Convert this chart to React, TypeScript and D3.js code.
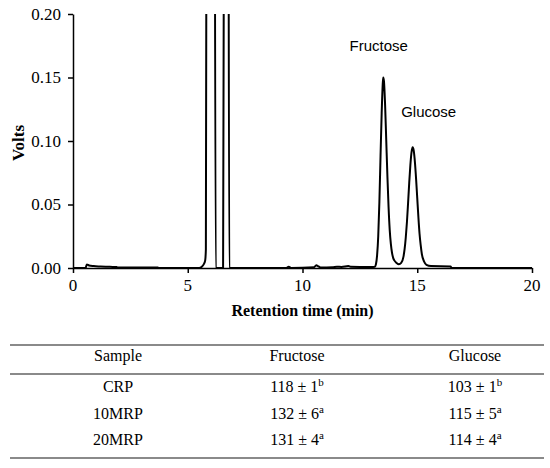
import { useEffect, useRef } from "react";
import * as d3 from "d3";

// chromatogram trace: [retention time (min), volts]
const traceTime = [
  0, 0.55, 0.6, 0.7, 0.9, 1.2, 1.6, 1.9, 1.95, 3.7, 3.75, 5.5, 5.6, 5.7, 5.76, 5.79,
  5.84, 6.0, 6.15, 6.22, 6.26, 6.54, 6.6, 6.68, 6.76, 6.81, 6.85,
  9.3, 9.4, 9.5, 10.5, 10.6, 10.7, 10.8, 11.3, 11.5, 11.7, 12.0, 12.1, 12.5, 13.0,
  13.15, 13.2, 13.25, 13.3, 13.35, 13.4, 13.45, 13.5, 13.52, 13.55, 13.6, 13.65, 13.7,
  13.75, 13.8, 13.85, 13.9, 13.95, 14.0, 14.1, 14.2, 14.3, 14.4, 14.45, 14.5, 14.55,
  14.6, 14.65, 14.7, 14.75, 14.8, 14.85, 14.9, 14.95, 15.0, 15.05, 15.1, 15.15, 15.2,
  15.3, 15.4, 15.6, 16.45, 16.5, 20,
];
const traceVolts = [
  0, 0, 0.0028, 0.002, 0.0015, 0.0012, 0.0009, 0.0008, 0.0003, 0.0003, 0, 0, 0.0008, 0.003, 0.006, 0.015,
  0.6, 1.2, 0.6, 0, 0, 0, 0.5, 0.9, 0.5, 0, 0,
  0, 0.001, 0, 0.0005, 0.0022, 0.0012, 0.0003, 0.0005, 0.001, 0.0008, 0.0015, 0.0009, 0.0008, 0.0008,
  0.001, 0.003, 0.01, 0.025, 0.052, 0.088, 0.122, 0.146, 0.15, 0.147, 0.128, 0.1, 0.072,
  0.048, 0.03, 0.019, 0.012, 0.008, 0.006, 0.004, 0.003, 0.004, 0.009, 0.015, 0.024, 0.036,
  0.051, 0.067, 0.081, 0.091, 0.095, 0.092, 0.083, 0.07, 0.055, 0.04, 0.027, 0.018, 0.011,
  0.005, 0.0025, 0.0015, 0.0012, 0, 0,
];

const xTicks = [0, 5, 10, 15, 20];
const yTicks = [0, 0.05, 0.1, 0.15, 0.2];

const peakNames = ["Fructose", "Glucose"];
const peakLabelAt = [
  [12.05, 0.171],
  [14.3, 0.119],
];

const tableHeader = ["Sample", "Fructose", "Glucose"];
const samples = ["CRP", "10MRP", "20MRP"];
const fructoseMean = [118, 132, 131];
const fructoseSd = [1, 6, 4];
const fructoseGroup = ["b", "a", "a"];
const glucoseMean = [103, 115, 114];
const glucoseSd = [1, 5, 4];
const glucoseGroup = ["b", "a", "a"];

const W = 550;
const H = 468;
const SERIF = "Liberation Serif";
const SANS = "Liberation Sans";

export default function App() {
  const svgRef = useRef<SVGSVGElement>(null);

  useEffect(() => {
    if (!svgRef.current) return;
    const svg = d3.select(svgRef.current);
    svg.selectAll("*").remove();

    const x = d3.scaleLinear().domain([0, 20]).range([73, 532]);
    const y = d3.scaleLinear().domain([0, 0.2]).range([268, 14]);

    svg
      .append("defs")
      .append("clipPath")
      .attr("id", "plot-clip")
      .append("rect")
      .attr("x", 73)
      .attr("y", 14)
      .attr("width", 459)
      .attr("height", 256);

    // trace
    const pts = traceTime.map((t, i) => [t, traceVolts[i]] as [number, number]);
    const line = d3
      .line<[number, number]>()
      .x((d) => x(d[0]))
      .y((d) => y(d[1]))
      .curve(d3.curveMonotoneX);
    svg
      .append("path")
      .attr("clip-path", "url(#plot-clip)")
      .attr("d", line(pts))
      .attr("fill", "none")
      .attr("stroke", "#000")
      .attr("stroke-width", 2)
      .attr("stroke-linejoin", "round");

    // axes (lines from d3, labels drawn below in serif)
    const xAxis = svg
      .append("g")
      .attr("transform", `translate(0,${y(0)})`)
      .call(d3.axisBottom(x).tickValues(xTicks).tickSize(5).tickSizeOuter(0).tickFormat(() => ""));
    const yAxis = svg
      .append("g")
      .attr("transform", `translate(${x(0)},0)`)
      .call(d3.axisLeft(y).tickValues(yTicks).tickSize(5).tickSizeOuter(0).tickFormat(() => ""));
    for (const g of [xAxis, yAxis]) {
      g.select(".domain").attr("stroke", "#000").attr("stroke-width", 1.5);
      g.selectAll(".tick line").attr("stroke", "#000").attr("stroke-width", 1.5);
      g.selectAll(".tick text").remove();
    }

    svg
      .selectAll(".xlab")
      .data(xTicks)
      .enter()
      .append("text")
      .attr("class", "xlab")
      .attr("x", (d) => x(d))
      .attr("y", 291)
      .attr("text-anchor", "middle")
      .attr("font-family", SERIF)
      .attr("font-size", 17)
      .text((d) => d3.format("d")(d));
    svg
      .selectAll(".ylab")
      .data(yTicks)
      .enter()
      .append("text")
      .attr("class", "ylab")
      .attr("x", 61)
      .attr("y", (d) => y(d) + 5.5)
      .attr("text-anchor", "end")
      .attr("font-family", SERIF)
      .attr("font-size", 17)
      .text((d) => d3.format(".2f")(d));

    svg
      .append("text")
      .attr("x", (x(0) + x(20)) / 2)
      .attr("y", 316)
      .attr("text-anchor", "middle")
      .attr("font-family", SERIF)
      .attr("font-weight", "bold")
      .attr("font-size", 16)
      .text("Retention time (min)");
    svg
      .append("text")
      .attr("transform", `translate(24,${y(0.1) + 2}) rotate(-90)`)
      .attr("text-anchor", "middle")
      .attr("font-family", SERIF)
      .attr("font-weight", "bold")
      .attr("font-size", 17)
      .text("Volts");

    // peak labels
    svg
      .selectAll(".peak-label")
      .data(peakNames)
      .enter()
      .append("text")
      .attr("class", "peak-label")
      .attr("x", (_, i) => x(peakLabelAt[i][0]))
      .attr("y", (_, i) => y(peakLabelAt[i][1]))
      .attr("font-family", SANS)
      .attr("font-size", 15)
      .text((d) => d);

    // table
    const colX = [118, 297, 475];
    const rowY = [361, 392, 419, 445];
    const rules = [345, 374, 458];
    svg
      .selectAll(".rule")
      .data(rules)
      .enter()
      .append("line")
      .attr("class", "rule")
      .attr("x1", 10)
      .attr("x2", 544)
      .attr("y1", (d) => d)
      .attr("y2", (d) => d)
      .attr("stroke", "#8a8a8a")
      .attr("stroke-width", 2);

    svg
      .selectAll(".th")
      .data(tableHeader)
      .enter()
      .append("text")
      .attr("class", "th")
      .attr("x", (_, i) => colX[i])
      .attr("y", rowY[0])
      .attr("text-anchor", "middle")
      .attr("font-family", SERIF)
      .attr("font-size", 16)
      .text((d) => d);

    samples.forEach((s, r) => {
      const yy = rowY[r + 1];
      svg
        .append("text")
        .attr("x", colX[0])
        .attr("y", yy)
        .attr("text-anchor", "middle")
        .attr("font-family", SERIF)
        .attr("font-size", 16)
        .text(s);
      const cells: [number, number, string][] = [
        [fructoseMean[r], fructoseSd[r], fructoseGroup[r]],
        [glucoseMean[r], glucoseSd[r], glucoseGroup[r]],
      ];
      cells.forEach(([m, sd, g], c) => {
        const t = svg
          .append("text")
          .attr("x", colX[c + 1])
          .attr("y", yy)
          .attr("text-anchor", "middle")
          .attr("font-family", SERIF)
          .attr("font-size", 16);
        t.append("tspan").text(`${m} ± ${sd}`);
        t.append("tspan").attr("font-size", 11).attr("dy", -6).text(g);
      });
    });
  }, []);

  return (
    <svg
      ref={svgRef}
      width={W}
      height={H}
      style={{ position: "absolute", left: 0, top: 0, background: "#fff" }}
    />
  );
}
